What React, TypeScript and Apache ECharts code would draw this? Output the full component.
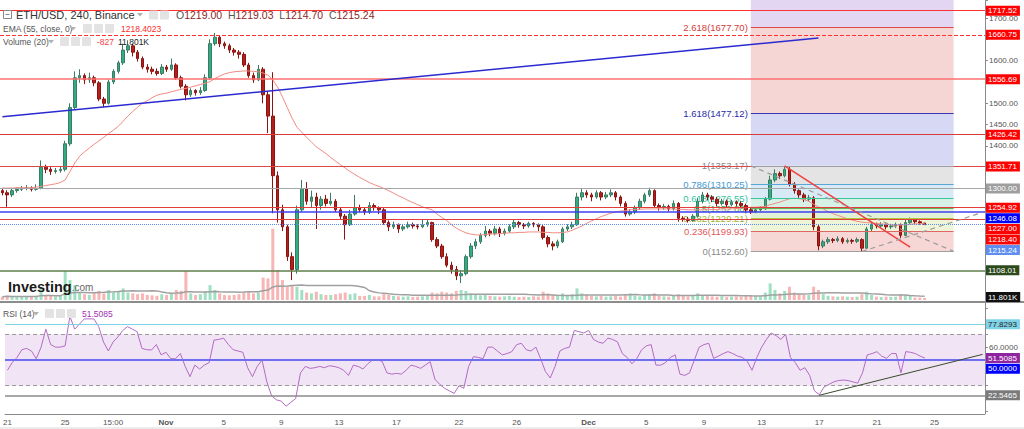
import React, { useEffect, useRef } from "react";
import * as echarts from "echarts";

// ---------------- data (8h candles, ETH/USD) ----------------
// [open, close, low, high]
const ohlc: number[][] = [
  [1295,1290,1284,1300],[1290,1285,1257,1296],[1285,1295,1280,1300],[1295,1298,1290,1303],[1298,1300,1294,1306],
  [1300,1302,1296,1308],[1302,1298,1293,1305],[1298,1300,1295,1310],[1300,1350,1298,1366],[1350,1345,1336,1356],
  [1345,1340,1332,1350],[1340,1342,1335,1348],[1342,1345,1337,1352],[1345,1405,1340,1412],[1405,1490,1400,1500],
  [1490,1560,1485,1575],[1560,1565,1548,1580],[1565,1555,1545,1570],[1555,1560,1548,1572],[1560,1548,1540,1565],
  [1548,1510,1505,1552],[1510,1500,1491,1515],[1500,1550,1497,1556],[1550,1575,1545,1580],[1575,1595,1570,1600],
  [1595,1625,1590,1640],[1625,1635,1618,1648],[1635,1620,1610,1640],[1620,1605,1598,1625],[1605,1585,1580,1610],
  [1585,1580,1572,1592],[1580,1575,1568,1586],[1575,1570,1565,1582],[1570,1585,1566,1592],[1585,1580,1574,1590],
  [1580,1590,1576,1605],[1590,1560,1555,1594],[1560,1540,1535,1565],[1540,1520,1507,1545],[1520,1530,1515,1535],
  [1530,1525,1518,1533],[1525,1530,1520,1538],[1530,1560,1527,1568],[1560,1640,1555,1650],[1640,1655,1635,1665],
  [1655,1640,1632,1660],[1640,1635,1628,1645],[1635,1625,1618,1640],[1625,1620,1612,1630],[1620,1615,1605,1625],
  [1615,1590,1585,1620],[1590,1565,1560,1595],[1565,1555,1548,1572],[1555,1580,1552,1590],[1580,1520,1500,1585],
  [1520,1470,1430,1528],[1470,1330,1242,1573],[1330,1250,1220,1340],[1250,1210,1200,1262],[1210,1140,1130,1215],
  [1140,1110,1085,1150],[1110,1250,1100,1260],[1250,1300,1245,1320],[1300,1270,1262,1315],[1270,1280,1255,1295],
  [1280,1260,1205,1290],[1260,1275,1250,1282],[1275,1265,1258,1285],[1265,1270,1260,1290],[1270,1250,1245,1275],
  [1250,1235,1228,1255],[1235,1215,1180,1240],[1215,1240,1212,1250],[1240,1255,1236,1285],[1255,1250,1244,1262],
  [1250,1245,1238,1255],[1245,1260,1240,1268],[1260,1255,1248,1265],[1255,1250,1240,1258],[1250,1220,1215,1254],
  [1220,1210,1200,1225],[1210,1215,1205,1222],[1215,1205,1196,1218],[1205,1210,1200,1216],[1210,1215,1206,1222],
  [1215,1212,1206,1220],[1212,1210,1204,1216],[1210,1215,1207,1226],[1215,1220,1210,1228],[1220,1180,1175,1222],
  [1180,1165,1160,1186],[1165,1140,1135,1170],[1140,1120,1115,1148],[1120,1110,1100,1128],[1110,1095,1085,1118],
  [1095,1100,1078,1108],[1100,1140,1096,1145],[1140,1165,1135,1172],[1165,1175,1158,1182],[1175,1190,1170,1195],
  [1190,1200,1185,1212],[1200,1195,1188,1205],[1195,1205,1190,1212],[1205,1195,1186,1210],[1195,1200,1190,1206],
  [1200,1210,1196,1216],[1210,1220,1205,1226],[1220,1215,1208,1224],[1215,1212,1205,1219],[1212,1218,1208,1222],
  [1218,1215,1209,1221],[1215,1210,1200,1218],[1210,1185,1180,1214],[1185,1170,1162,1190],[1170,1165,1155,1176],
  [1165,1175,1160,1180],[1175,1205,1172,1210],[1205,1210,1200,1216],[1210,1215,1205,1222],[1215,1280,1212,1290],
  [1280,1290,1272,1300],[1290,1285,1278,1296],[1285,1280,1270,1290],[1280,1290,1276,1296],[1290,1280,1272,1294],
  [1280,1285,1275,1292],[1285,1290,1280,1298],[1290,1280,1272,1294],[1280,1265,1258,1284],[1265,1240,1234,1270],
  [1240,1245,1236,1252],[1245,1255,1240,1260],[1255,1270,1250,1276],[1270,1285,1265,1290],[1285,1295,1280,1302],
  [1295,1260,1255,1298],[1260,1255,1248,1265],[1255,1258,1250,1264],[1258,1252,1246,1262],[1252,1265,1248,1272],
  [1265,1230,1222,1268],[1230,1228,1222,1235],[1228,1225,1220,1233],[1225,1235,1222,1240],[1235,1270,1232,1278],
  [1270,1285,1265,1292],[1285,1280,1272,1290],[1280,1275,1268,1284],[1275,1265,1258,1280],[1265,1270,1260,1276],
  [1270,1262,1256,1274],[1262,1268,1258,1273],[1268,1265,1258,1272],[1265,1260,1254,1270],[1260,1250,1244,1264],
  [1250,1245,1240,1256],[1245,1250,1242,1256],[1250,1252,1246,1258],[1252,1275,1250,1280],[1275,1320,1272,1330],
  [1320,1335,1315,1345],[1335,1330,1322,1340],[1330,1345,1326,1353],[1345,1310,1305,1350],[1310,1295,1288,1315],
  [1295,1285,1278,1298],[1285,1275,1268,1290],[1275,1278,1270,1285],[1278,1210,1202,1282],[1210,1165,1155,1214],
  [1165,1175,1160,1180],[1175,1180,1170,1186],[1180,1178,1172,1184],[1178,1182,1174,1188],[1182,1175,1170,1186],
  [1175,1178,1171,1183],[1178,1176,1170,1182],[1176,1180,1172,1185],[1180,1160,1152.6,1183],[1160,1205,1158,1210],
  [1205,1215,1200,1222],[1215,1212,1206,1220],[1212,1215,1208,1221],[1215,1210,1204,1218],[1210,1212,1205,1217],
  [1212,1215,1207,1220],[1215,1190,1184,1218],[1190,1220,1188,1226],[1220,1228,1216,1232],[1228,1222,1217,1230],
  [1222,1219,1215,1225],[1219,1215.24,1214.7,1219.03],
];

// volume in thousands
const volumesK: number[] = [
  20,25,18,22,20,18,24,20,70,30, 25,22,28,175,120,90,45,35,30,40,
  55,40,60,45,50,70,45,40,35,40, 30,28,25,35,30,40,60,55,175,40,
  30,35,50,90,60,40,30,28,30,35, 45,50,40,45,135,130,430,180,120,80,
  90,80,60,45,40,50,35,30,30,35, 40,45,35,40,25,25,30,22,22,35,
  30,25,22,20,22,18,20,22,25,45, 40,50,45,40,55,60,55,40,30,28,
  30,25,22,20,22,25,20,18,20,18, 22,20,50,40,30,25,40,30,35,70,
  40,30,25,22,25,20,22,25,20,35, 40,25,22,30,35,40,25,22,20,30,
  35,25,22,25,40,30,25,22,20,22, 18,20,22,20,25,30,22,20,45,100,
  60,40,55,80,45,35,30,30,80,60, 35,25,22,20,22,20,18,20,35,50,
  30,20,18,20,18,20,35,30,25,15, 14,11.801,
];

const ema55: number[] = [
  1301,1301,1301,1302,1302,1302,1302,
  1303,1305,1307,1309,1311,1314,
  1320,1340,1360,1376,1386,1395,1404,
  1412,1420,1429,1437,1446,1458,1470,
  1481,1491,1500,1506,1513,1519,
  1522,1524,1527,1530,1533,1535,1538,1541,1544,1547,
  1551,1558,1564,1569,1572,1574,1575,1576,1576,1575,1574,
  1571,1566,1555,1538,1515,1490,1465,1444,
  1432,1420,1409,1398,1390,1382,1373,1364,1356,1348,
  1340,1333,1326,1320,1314,1309,1305,1300,
  1295,1289,1283,1278,1272,1267,1262,1257,1253,
  1250,1240,1232,1225,1215,1207,1201,
  1196,1193,1191,1191,1192,1193,1193,1194,1195,1196,1196,1197,1197,1198,1198,1198,1197,1197,1196,1196,1197,1198,
  1202,1207,1212,1218,1224,1229,1234,1238,1242,1245,
  1247,1248,1250,1251,1251,1252,1252,1252,1252,1252,1252,1252,1251,1251,1250,1250,1250,1250,1251,1251,1251,1252,1252,1252,1253,1254,1255,1256,1256,1257,
  1258,1262,1265,1268,1272,1276,1277,1276,1274,1270,
  1263,1257,1252,1246,1241,1237,1233,1229,1226,1223,1221,1220,1219,1218,1217,1216,1215,1214,1214,1215,1216,1217,1217,1218.4,
];

const rsi14: number[] = [
  42,48,52,58,59,57,51,60,74,62,
  60,60,61,84,74,78,82,82,82,76,
  64,57,64,68,73,76,74,72,59,58,
  57.8,62,54,56,51,51,55,45,37,46,
  43,46,48,65.5,66,67,62,58,57,56,
  44,37,45,50,33,22,19,18,14,17,
  20,40,45,43.5,44,45,44,45.5,45,44,
  42,38,46,45,43,47,50,50,49,40,
  39,39.6,39,42,46,45,43.5,46,48.7,35,
  31,28,26,24,30,28,45,52.6,52,51,
  60,60,57,54,55,56.5,62,63,58,57,
  60,51,41,36,45,57,59,60,73,72,
  71,73,66,64,63,67,66,64,55,52,
  47,51,57.8,61,62,46,46,48,52,54,
  39,38,40,50,60,62,63,51.3,53,55,
  56.5,55,53,52,49,42,52,60,66,71,
  69,66,70,52,48,42,44,38,26,23,
  29,31,33,34,34.4,34,33,32,40,54,
  55,56.5,53,51.3,55,55,40,56.5,56,55,
  53,51.5085,
];

// time axis: 8h slots from 2022-10-21, with a 16h feed gap, plus empty future slots
const startUTC = Date.UTC(2022, 9, 21, 0, 0);
const candleHours = 8;
const slotCount = 204;
const feedGapFromSlot = 88;
const feedGapHours = 16;
const pad = (n: number) => String(n).padStart(2, "0");
const fmtTime = (ms: number) => {
  const d = new Date(ms);
  return `${d.getUTCFullYear()}-${pad(d.getUTCMonth() + 1)}-${pad(d.getUTCDate())} ${pad(d.getUTCHours())}:${pad(d.getUTCMinutes())}`;
};
const categories: string[] = Array.from({ length: slotCount }, (_, i) =>
  fmtTime(startUTC + (i * candleHours + (i >= feedGapFromSlot ? feedGapHours : 0)) * 3600000)
);

const xTickKeys = [
  "2022-10-21 00:00", "2022-10-25 00:00", "2022-10-28 08:00", "2022-11-01 00:00", "2022-11-05 00:00",
  "2022-11-09 00:00", "2022-11-13 00:00", "2022-11-17 00:00", "2022-11-22 00:00", "2022-11-26 00:00",
  "2022-12-01 00:00", "2022-12-05 00:00", "2022-12-09 00:00", "2022-12-13 00:00", "2022-12-17 00:00",
  "2022-12-21 00:00", "2022-12-25 00:00",
];
const xTickTexts = ["21", "25", "15:00", "Nov", "5", "9", "13", "17", "22", "26", "Dec", "5", "9", "13", "17", "21", "25"];
const monthTicks = ["Nov", "Dec"];

const priceTickLabels = [1700, 1600, 1500, 1450, 1400];
const rsiTickLabels = [60];

// horizontal price levels
const hLevels = [1717.52, 1660.75, 1556.69, 1426.42, 1351.71, 1300.0, 1254.92, 1246.08, 1227.0, 1215.24, 1108.01];
const hLineColors = ["#ff3030", "#ff3030", "#ff7070", "#d93b3b", "#e04848", "#a6a6a6", "#e23c3c", "#3f3ff5", "#e23c3c", "#5b8def", "#5e7f4c"];
const hLineTypes = ["solid", "dashed", "solid", "solid", "solid", "solid", "solid", "solid", "solid", "dotted", "solid"];
const hLineWidths = [1, 1, 1.5, 1, 1, 1, 1, 1.5, 1, 1, 1.5];
const hTagBg = ["#ff0000", "#ff0000", "#ff0000", "#ff0000", "#ff0000", "#9e9e9e", "#ff0000", "#0000ff", "#ff0000", "#5f8ef0", "#2d4a1d"];

// Fibonacci retracement
const fibLevels = ["0", "0.236", "0.382", "0.5", "0.618", "0.786", "1", "1.618", "2.618"];
const fibPrices = [1152.6, 1199.93, 1229.21, 1252.88, 1276.55, 1310.25, 1353.17, 1477.12, 1677.7];
const fibLineColors = ["#9e9e9e", "#e06666", "#b3c23c", "#5fb35a", "#3cc79b", "#5aa6d6", "#9e9e9e", "#3a3ab0", "#e04848"];
const fibTextColors = ["#8a8a8a", "#e05a5a", "#9db534", "#59a845", "#2fc49b", "#3f9ad6", "#8a8a8a", "#2a2aa8", "#d43c3c"];
const fibFills = ["#f7d6d6", "#eef4d8", "#e0f1d8", "#d7f1e6", "#d8eaf6", "#e4e4e4", "#d7d8f4", "#f6d5d5", "#e2d6f2"];
const fibTopPrice = 1742.5;
const fibFrom = "2022-12-12 08:00";
const fibTo = "2022-12-26 08:00";

// drawn trend lines [time, price]
const trendBlue = [["2022-10-21 00:00", 1468.3], ["2022-12-17 00:00", 1653.4]];
const trendRed = [["2022-12-14 16:00", 1353.0], ["2022-12-23 08:00", 1162.6]];
const trendGrayA = [[fibFrom, 1353.17], [fibTo, 1152.6]];
const trendGrayB = [["2022-12-20 00:00", 1152.0], ["2022-12-28 08:00", 1244.0]];
const rsiTrend = [["2022-12-17 00:00", 22.55], ["2022-12-28 08:00", 54.4]];

// RSI levels
const rsiHigh = 77.8293;
const rsiLow = 22.5465;
const rsiBand = [70, 30];
const rsiMid = 50;

const FONT = '"Liberation Sans", Arial, Helvetica, sans-serif';

function buildOption() {
  const isTick = (_: number, v: string) => xTickKeys.includes(v);
  const up = (i: number) => ohlc[i][1] >= ohlc[i][0];
  const volData = volumesK.map((v, i) => ({ value: v, itemStyle: { color: up(i) ? "#9fe0c3" : "#f7b5b5" } }));
  const volMA = volumesK.map((_, i) => {
    const s = Math.max(0, i - 19);
    const w = volumesK.slice(s, i + 1);
    return w.reduce((a, b) => a + b, 0) / w.length;
  });

  const seg = (pts: any[], lineStyle: any) => [{ coord: pts[0], lineStyle }, { coord: pts[1] }];

  const mainLines: any[] = [
    ...hLevels.map((v, i) => ({ yAxis: v, lineStyle: { color: hLineColors[i], type: hLineTypes[i], width: hLineWidths[i] } })),
    ...fibPrices.map((v, i) => seg([[fibFrom, v], [fibTo, v]], { color: fibLineColors[i], width: 1, type: "solid" })),
    seg(trendBlue, { color: "#2a2ad0", width: 1.5, type: "solid" }),
    seg(trendRed, { color: "#f04040", width: 1.5, type: "solid" }),
    seg(trendGrayA, { color: "#9a9a9a", width: 1.2, type: [5, 4] }),
    seg(trendGrayB, { color: "#9a9a9a", width: 1.2, type: [5, 4] }),
  ];
  const bandTops = [...fibPrices.slice(1), fibTopPrice];
  const fibAreas = fibPrices.map((v, i) => [
    { coord: [fibFrom, v], itemStyle: { color: fibFills[i] } },
    { coord: [fibTo, bandTops[i]] },
  ]);

  const axisGray = "#8a8a8a";
  return {
    animation: false,
    backgroundColor: "#ffffff",
    textStyle: { fontFamily: FONT },
    grid: [
      { left: 0, right: 39, top: 0, height: 295 },
      { left: 0, right: 39, top: 227, height: 73 },
      { left: 0, right: 39, top: 308.6, height: 102.8 },
    ],
    xAxis: [
      { type: "category", gridIndex: 0, data: categories, boundaryGap: true, show: false },
      { type: "category", gridIndex: 1, data: categories, boundaryGap: true, show: false },
      {
        type: "category", gridIndex: 2, data: categories, boundaryGap: true, offset: 2.6,
        axisLine: { lineStyle: { color: axisGray } },
        axisTick: { interval: isTick, length: 3, lineStyle: { color: axisGray } },
        axisLabel: {
          interval: isTick, fontSize: 8, color: "#555", margin: 4, alignMinLabel: "center",
          formatter: (v: string) => {
            const t = xTickTexts[xTickKeys.indexOf(v)] ?? "";
            return monthTicks.includes(t) ? `{b|${t}}` : t;
          },
          rich: { b: { fontWeight: "bold", fontSize: 8, color: "#555" } },
        },
        splitLine: { show: false },
      },
    ],
    yAxis: [
      {
        type: "value", gridIndex: 0, position: "right", min: 1050, max: 1742.5, interval: 50,
        axisLine: { show: true, lineStyle: { color: axisGray } },
        axisTick: { show: true, length: 3, lineStyle: { color: axisGray } },
        axisLabel: { fontSize: 8, color: "#555", margin: 4, formatter: (v: number) => (priceTickLabels.includes(v) ? v.toFixed(2) : "") },
        splitLine: { show: false },
      },
      { type: "value", gridIndex: 1, min: 0, max: 440, show: false, splitLine: { show: false } },
      {
        type: "value", gridIndex: 2, position: "right", min: 10, max: 90, interval: 10,
        axisLine: { show: true, lineStyle: { color: axisGray } },
        axisTick: { show: true, length: 3, lineStyle: { color: axisGray } },
        axisLabel: { fontSize: 8, color: "#555", margin: 4, formatter: (v: number) => (rsiTickLabels.includes(v) ? v.toFixed(4) : "") },
        splitLine: { show: false },
      },
    ],
    series: [
      {
        type: "line", xAxisIndex: 0, yAxisIndex: 0, data: ema55, symbol: "none", z: 3,
        lineStyle: { color: "#f28b82", width: 1 }, silent: true,
        markArea: { silent: true, data: fibAreas },
        markLine: { silent: true, symbol: ["none", "none"], label: { show: false }, emphasis: { disabled: true }, data: mainLines },
      },
      {
        type: "candlestick", xAxisIndex: 0, yAxisIndex: 0, data: ohlc, barWidth: 3, z: 2, silent: true,
        itemStyle: { color: "#2fae84", color0: "#b3201c", borderColor: "#3c7a62", borderColor0: "#8c1410", borderWidth: 1 },
      },
      {
        type: "bar", xAxisIndex: 1, yAxisIndex: 1, data: volData, barWidth: 3, silent: true, z: 1,
      },
      {
        type: "line", xAxisIndex: 1, yAxisIndex: 1, data: volMA, symbol: "none", silent: true, z: 1,
        lineStyle: { color: "#a0a0a0", width: 1.5 },
      },
      {
        type: "line", xAxisIndex: 2, yAxisIndex: 2, data: rsi14, symbol: "none", silent: true,
        lineStyle: { color: "#b36bc4", width: 1 },
        markArea: { silent: true, data: [[{ yAxis: rsiBand[0], itemStyle: { color: "#f1e4f5" } }, { yAxis: rsiBand[1] }]] },
        markLine: {
          silent: true, symbol: ["none", "none"], label: { show: false }, emphasis: { disabled: true },
          data: [
            { yAxis: rsiHigh, lineStyle: { color: "#7fd3e6", width: 1, type: "solid" } },
            { yAxis: rsiBand[0], lineStyle: { color: "#9a9a9a", width: 1, type: [4, 3] } },
            { yAxis: rsiMid, lineStyle: { color: "#6f6ff0", width: 2, type: "solid" } },
            { yAxis: rsiBand[1], lineStyle: { color: "#9a9a9a", width: 1, type: [4, 3] } },
            { yAxis: rsiLow, lineStyle: { color: "#8a8a8a", width: 1.5, type: "solid" } },
            seg(rsiTrend, { color: "#3b4a2d", width: 1, type: "solid" }),
          ],
        },
      },
    ],
  };
}

function txt(x: number, y: number, text: string, size: number, fill: string, extra: any = {}, z = 50) {
  return {
    type: "text", x, y, z, silent: true,
    style: { text, font: `${extra.weight || "normal"} ${size}px ${FONT}`, fill, align: extra.align || "left", verticalAlign: "middle", ...(extra.style || {}) },
  };
}

function stack(items: any[], gap: number) {
  const s = items.map((t) => ({ ...t })).sort((a, b) => a.y - b.y);
  for (let i = 1; i < s.length; i++) if (s[i].y < s[i - 1].y + gap) s[i].y = s[i - 1].y + gap;
  return s;
}

function buildGraphics(chart: any) {
  const els: any[] = [];
  const py = (v: number) => chart.convertToPixel({ yAxisIndex: 0 }, v);
  const vy = (v: number) => chart.convertToPixel({ yAxisIndex: 1 }, v);
  const ry = (v: number) => chart.convertToPixel({ yAxisIndex: 2 }, v);
  const fx = chart.convertToPixel({ xAxisIndex: 0 }, fibFrom);
  const tagX = 986;
  const tag = (y: number, text: string, bg: string, fg: string) =>
    txt(tagX, y, text, 8, fg, { style: { backgroundColor: bg, padding: [1, 3, 1, 2] } }, 100);

  // panel separator and axis column line
  els.push({ type: "line", z: 60, silent: true, shape: { x1: 0, y1: 302, x2: 1024, y2: 302 }, style: { stroke: "#8c8c8c", lineWidth: 2 } });
  els.push({ type: "line", z: 60, silent: true, shape: { x1: 985.5, y1: 0, x2: 985.5, y2: 414 }, style: { stroke: "#8a8a8a", lineWidth: 1 } });
  els.push({ type: "rect", z: 60, silent: true, shape: { x: 0, y: 427, width: 1024, height: 2 }, style: { fill: "#ececec" } });

  // fib labels (behind candles)
  fibPrices.forEach((p, i) => {
    els.push(txt(fx - 3, py(p), `${fibLevels[i]}(${p.toFixed(2)})`, 9.5, fibTextColors[i], { align: "right" }, 1));
  });

  // price tags
  const emaLast = ema55[ema55.length - 1];
  const priceTags = [
    ...hLevels.map((v, i) => ({ y: py(v), text: v.toFixed(2), bg: hTagBg[i], fg: "#ffffff" })),
    { y: py(emaLast), text: emaLast.toFixed(2), bg: "#ff0000", fg: "#ffffff" },
  ];
  stack(priceTags, 10.6).forEach((t) => els.push(tag(t.y, t.text, t.bg, t.fg)));
  const lastVol = volumesK[volumesK.length - 1];
  els.push(tag(vy(lastVol) - 1, `${lastVol.toFixed(3)}K`, "#111111", "#ffffff"));

  // RSI tags
  const rsiLast = rsi14[rsi14.length - 1];
  const rsiTags = [
    { y: ry(rsiHigh), text: rsiHigh.toFixed(4), bg: "#7fd3e6", fg: "#222222" },
    { y: ry(rsiLast), text: rsiLast.toFixed(4), bg: "#8e24a0", fg: "#ffffff" },
    { y: ry(rsiMid), text: rsiMid.toFixed(4), bg: "#0000ff", fg: "#ffffff" },
    { y: ry(rsiLow), text: rsiLow.toFixed(4), bg: "#7a7a7a", fg: "#ffffff" },
  ];
  stack(rsiTags, 10.6).forEach((t) => els.push(tag(t.y, t.text, t.bg, t.fg)));

  // legend headers
  const icon = (x: number, y: number) => ({ type: "rect", z: 50, silent: true, shape: { x, y, width: 9, height: 9, r: 1 }, style: { fill: "#e3e3e3" } });
  const arrow = (x: number, y: number) => ({ type: "polygon", z: 50, silent: true, shape: { points: [[x, y], [x + 6, y], [x + 3, y + 3.5]] }, style: { fill: "#b0b0b0" } });

  els.push({ type: "rect", z: 50, silent: true, shape: { x: 3.5, y: 10.5, width: 8, height: 8 }, style: { fill: "#fff", stroke: "#888", lineWidth: 1 } });
  els.push({ type: "line", z: 50, silent: true, shape: { x1: 5.5, y1: 14.5, x2: 9.5, y2: 14.5 }, style: { stroke: "#888", lineWidth: 1 } });
  els.push(txt(16, 15, "ETH/USD, 240, Binance", 11, "#333"));
  els.push(arrow(137, 13));
  els.push(icon(149, 10.5), icon(160, 10.5));
  els.push({
    type: "text", x: 176, y: 15, z: 50, silent: true,
    style: {
      text: "{k|O}{v|1219.00}  {k|H}{v|1219.03}  {k|L}{v|1214.70}  {k|C}{v|1215.24}",
      verticalAlign: "middle", font: `10.5px ${FONT}`,
      rich: {
        k: { fill: "#555555", font: `10.5px ${FONT}` },
        v: { fill: "#8b1e1e", font: `10.5px ${FONT}` },
      },
    },
  });

  els.push(txt(3, 28.5, "EMA (55, close, 0)", 8.5, "#555"));
  els.push(arrow(70, 27));
  els.push(icon(83, 24), icon(94, 24), icon(105, 24));
  els.push(txt(121, 28.5, "1218.4023", 8.5, "#ff2a2a"));

  els.push(txt(3, 41.5, "Volume (20)", 8.5, "#555"));
  els.push(arrow(48, 40));
  els.push(icon(60, 37), icon(71, 37), icon(82, 37));
  els.push(txt(97, 41.5, "-827", 8.5, "#ff4040"));
  els.push(txt(118, 41.5, "11.801K", 8.5, "#222"));

  els.push(txt(3, 313.5, "RSI (14)", 8.5, "#555"));
  els.push(arrow(33, 312));
  els.push(icon(45, 309), icon(56, 309), icon(67, 309));
  els.push(txt(82, 313.5, "51.5085", 8.5, "#a030b0"));

  // watermark
  els.push({
    type: "text", x: 8, y: 287, z: 50, silent: true,
    style: {
      text: "{a|Investing}{b|.com}", verticalAlign: "middle", font: `bold 14px ${FONT}`,
      rich: { a: { fill: "#1a1a1a", font: `bold 14.5px ${FONT}` }, b: { fill: "#666", font: `10px ${FONT}` } },
    },
  });
  return els;
}

export default function App() {
  const ref = useRef<HTMLDivElement>(null);
  useEffect(() => {
    document.body.style.margin = "0";
    const chart = echarts.init(ref.current as HTMLDivElement, null, { renderer: "svg" });
    chart.setOption(buildOption() as any);
    chart.setOption({ graphic: { elements: buildGraphics(chart) } } as any);
    return () => chart.dispose();
  }, []);
  return <div ref={ref} style={{ position: "absolute", left: 0, top: 0, width: 1024, height: 429, background: "#fff" }} />;
}
